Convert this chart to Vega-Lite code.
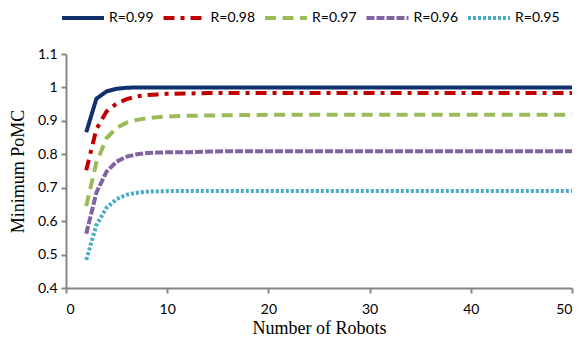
{
  "$schema": "https://vega.github.io/schema/vega-lite/v6.json",
  "autosize": {"type": "none"},
  "width": 506,
  "height": 234,
  "padding": {"left": 66, "top": 54, "right": 10, "bottom": 54},
  "background": "white",
  "config": {
    "view": {"stroke": null},
    "axis": {
      "domainColor": "#868686",
      "domainWidth": 2,
      "tickColor": "#868686",
      "tickWidth": 2,
      "tickSize": 5,
      "grid": false,
      "labelFont": "Lato",
      "labelFontSize": 14,
      "labelColor": "#000000",
      "titleFont": "Liberation Serif",
      "titleFontSize": 18,
      "titleFontWeight": "normal",
      "titleColor": "#000000"
    },
    "legend": {
      "labelFont": "Lato",
      "labelFontSize": 14,
      "labelColor": "#000000"
    }
  },
  "data": {
    "values": [
      {"n": 2, "R": "R=0.99", "v": 0.866}, {"n": 3, "R": "R=0.99", "v": 0.966}, {"n": 4, "R": "R=0.99", "v": 0.988}, {"n": 5, "R": "R=0.99", "v": 0.996}, {"n": 6, "R": "R=0.99", "v": 0.999}, {"n": 7, "R": "R=0.99", "v": 1.0}, {"n": 8, "R": "R=0.99", "v": 1.0}, {"n": 10, "R": "R=0.99", "v": 1.0}, {"n": 15, "R": "R=0.99", "v": 1.0}, {"n": 20, "R": "R=0.99", "v": 1.0}, {"n": 30, "R": "R=0.99", "v": 1.0}, {"n": 40, "R": "R=0.99", "v": 1.0}, {"n": 50, "R": "R=0.99", "v": 1.0},
      {"n": 2, "R": "R=0.98", "v": 0.752}, {"n": 3, "R": "R=0.98", "v": 0.875}, {"n": 4, "R": "R=0.98", "v": 0.928}, {"n": 5, "R": "R=0.98", "v": 0.952}, {"n": 6, "R": "R=0.98", "v": 0.965}, {"n": 7, "R": "R=0.98", "v": 0.973}, {"n": 8, "R": "R=0.98", "v": 0.977}, {"n": 9, "R": "R=0.98", "v": 0.979}, {"n": 10, "R": "R=0.98", "v": 0.981}, {"n": 12, "R": "R=0.98", "v": 0.982}, {"n": 14, "R": "R=0.98", "v": 0.983}, {"n": 20, "R": "R=0.98", "v": 0.983}, {"n": 30, "R": "R=0.98", "v": 0.983}, {"n": 40, "R": "R=0.98", "v": 0.983}, {"n": 50, "R": "R=0.98", "v": 0.983},
      {"n": 2, "R": "R=0.97", "v": 0.645}, {"n": 3, "R": "R=0.97", "v": 0.775}, {"n": 4, "R": "R=0.97", "v": 0.848}, {"n": 5, "R": "R=0.97", "v": 0.879}, {"n": 6, "R": "R=0.97", "v": 0.895}, {"n": 7, "R": "R=0.97", "v": 0.903}, {"n": 8, "R": "R=0.97", "v": 0.908}, {"n": 9, "R": "R=0.97", "v": 0.911}, {"n": 10, "R": "R=0.97", "v": 0.913}, {"n": 12, "R": "R=0.97", "v": 0.915}, {"n": 14, "R": "R=0.97", "v": 0.916}, {"n": 16, "R": "R=0.97", "v": 0.917}, {"n": 20, "R": "R=0.97", "v": 0.918}, {"n": 30, "R": "R=0.97", "v": 0.918}, {"n": 40, "R": "R=0.97", "v": 0.918}, {"n": 50, "R": "R=0.97", "v": 0.918},
      {"n": 2, "R": "R=0.96", "v": 0.562}, {"n": 3, "R": "R=0.96", "v": 0.685}, {"n": 4, "R": "R=0.96", "v": 0.748}, {"n": 5, "R": "R=0.96", "v": 0.778}, {"n": 6, "R": "R=0.96", "v": 0.793}, {"n": 7, "R": "R=0.96", "v": 0.8}, {"n": 8, "R": "R=0.96", "v": 0.804}, {"n": 9, "R": "R=0.96", "v": 0.805}, {"n": 10, "R": "R=0.96", "v": 0.806}, {"n": 12, "R": "R=0.96", "v": 0.806}, {"n": 14, "R": "R=0.96", "v": 0.808}, {"n": 16, "R": "R=0.96", "v": 0.809}, {"n": 20, "R": "R=0.96", "v": 0.809}, {"n": 30, "R": "R=0.96", "v": 0.809}, {"n": 40, "R": "R=0.96", "v": 0.809}, {"n": 50, "R": "R=0.96", "v": 0.809},
      {"n": 2, "R": "R=0.95", "v": 0.484}, {"n": 3, "R": "R=0.95", "v": 0.588}, {"n": 4, "R": "R=0.95", "v": 0.64}, {"n": 5, "R": "R=0.95", "v": 0.666}, {"n": 6, "R": "R=0.95", "v": 0.679}, {"n": 7, "R": "R=0.95", "v": 0.685}, {"n": 8, "R": "R=0.95", "v": 0.688}, {"n": 9, "R": "R=0.95", "v": 0.689}, {"n": 10, "R": "R=0.95", "v": 0.69}, {"n": 12, "R": "R=0.95", "v": 0.69}, {"n": 20, "R": "R=0.95", "v": 0.69}, {"n": 30, "R": "R=0.95", "v": 0.69}, {"n": 40, "R": "R=0.95", "v": 0.69}, {"n": 50, "R": "R=0.95", "v": 0.69}
    ]
  },
  "mark": {"type": "line", "strokeWidth": 4, "interpolate": "linear"},
  "encoding": {
    "x": {
      "field": "n", "type": "quantitative",
      "scale": {"domain": [0, 50], "nice": false},
      "axis": {"values": [0, 10, 20, 30, 40, 50], "title": "Number of Robots", "labelPadding": 9, "titlePadding": 3}
    },
    "y": {
      "field": "v", "type": "quantitative",
      "scale": {"domain": [0.4, 1.1], "nice": false, "zero": false},
      "axis": {"values": [0.4, 0.5, 0.6, 0.7, 0.8, 0.9, 1.0, 1.1], "title": "Minimum PoMC", "labelPadding": 4, "titlePadding": 10, "labelExpr": "format(datum.value, '.1~f')"}
    },
    "color": {
      "field": "R", "type": "nominal",
      "sort": ["R=0.99", "R=0.98", "R=0.97", "R=0.96", "R=0.95"],
      "scale": {"domain": ["R=0.99", "R=0.98", "R=0.97", "R=0.96", "R=0.95"], "range": ["#10306E", "#C00000", "#9BBB59", "#8064A2", "#4BACC6"]},
      "legend": {
        "title": null, "orient": "none", "direction": "horizontal", "columns": 5,
        "legendX": -6, "legendY": -59,
        "symbolType": "stroke", "symbolSize": 1764, "symbolStrokeWidth": 4,
        "labelOffset": 3, "columnPadding": 1.5
      }
    },
    "strokeDash": {
      "field": "R", "type": "nominal",
      "sort": ["R=0.99", "R=0.98", "R=0.97", "R=0.96", "R=0.95"],
      "scale": {"domain": ["R=0.99", "R=0.98", "R=0.97", "R=0.96", "R=0.95"], "range": [[1, 0], [11, 6, 4, 6], [11, 6.5], [8, 2], [3, 2]]},
      "legend": null
    }
  }
}
